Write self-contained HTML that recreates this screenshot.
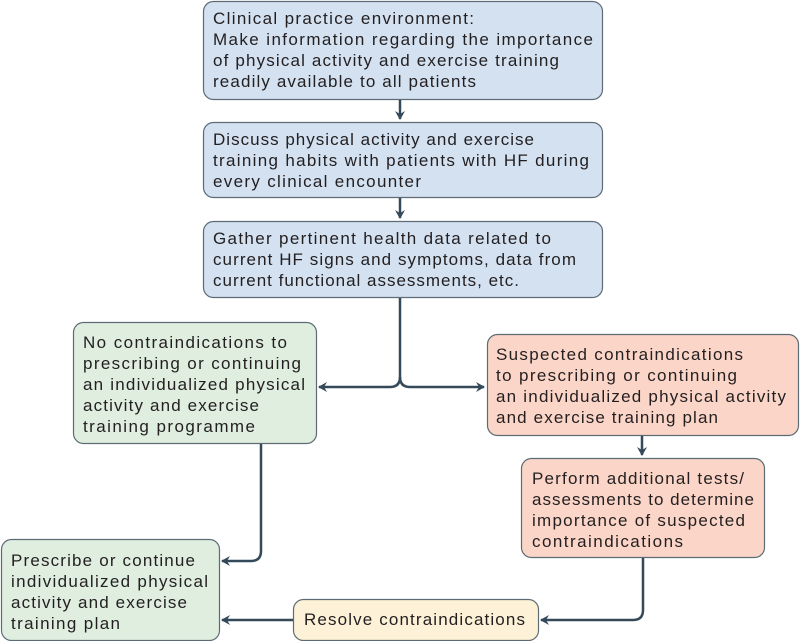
<!DOCTYPE html>
<html><head><meta charset="utf-8"><style>
html,body{margin:0;padding:0;background:#fff;width:800px;height:641px;overflow:hidden}
text{font-family:"Liberation Sans",sans-serif;font-size:17px;fill:#231f20}
</style></head><body>
<svg width="800" height="641" viewBox="0 0 800 641" xmlns="http://www.w3.org/2000/svg">
<defs><marker id="a" markerWidth="10" markerHeight="10" refX="8" refY="5" orient="auto" markerUnits="userSpaceOnUse"><path d="M0,0 L9,5 L0,10 L3,5 Z" fill="#34495a"/></marker></defs>
<g stroke="#5c6b75" stroke-width="1.2">
<rect x="203.5" y="1.5" width="399" height="98" rx="10" fill="#d3e1f1"/>
<rect x="203.5" y="122.5" width="399" height="75" rx="10" fill="#d3e1f1"/>
<rect x="203.5" y="221.5" width="399" height="76" rx="10" fill="#d3e1f1"/>
<rect x="73.5" y="322.5" width="243" height="121" rx="10" fill="#dfeedf"/>
<rect x="487.5" y="334.5" width="311" height="101" rx="10" fill="#fbd6c8"/>
<rect x="521.5" y="458.5" width="243" height="99" rx="10" fill="#fbd6c8"/>
<rect x="1.5" y="539.5" width="218" height="101" rx="10" fill="#dfeedf"/>
<rect x="293.5" y="599.5" width="245" height="41" rx="10" fill="#fdf2d7"/>
</g>
<g stroke="#34495a" stroke-width="2.5" fill="none">
<path d="M400,100 V119" marker-end="url(#a)"/>
<path d="M400,198 V218" marker-end="url(#a)"/>
<path d="M400,298 V377 Q400,387 390,387 H319" marker-end="url(#a)"/>
<path d="M400,377 Q400,387 410,387 H484" marker-end="url(#a)"/>
<path d="M642,436 V455" marker-end="url(#a)"/>
<path d="M261,444 V551 Q261,561 251,561 H222" marker-end="url(#a)"/>
<path d="M643,558 V610 Q643,620 633,620 H541" marker-end="url(#a)"/>
<path d="M293,620 H222" marker-end="url(#a)"/>
</g>
<text x="213" y="24" textLength="261">Clinical practice environment:</text>
<text x="213" y="45" textLength="380">Make information regarding the importance</text>
<text x="213" y="66" textLength="346">of physical activity and exercise training</text>
<text x="213" y="87" textLength="263">readily available to all patients</text>
<text x="213" y="145" textLength="321">Discuss physical activity and exercise</text>
<text x="213" y="166" textLength="376">training habits with patients with HF during</text>
<text x="213" y="187" textLength="208">every clinical encounter</text>
<text x="213" y="244" textLength="338">Gather pertinent health data related to</text>
<text x="213" y="265" textLength="363">current HF signs and symptoms, data from</text>
<text x="213" y="286" textLength="306">current functional assessments, etc.</text>
<g>
<text x="83" y="348" textLength="204">No contraindications to</text>
<text x="83" y="369" textLength="218">prescribing or continuing</text>
<text x="83" y="390" textLength="222">an individualized physical</text>
<text x="83" y="411" textLength="176">activity and exercise</text>
<text x="83" y="432" textLength="172">training programme</text>
<text x="496" y="360" textLength="247">Suspected contraindications</text>
<text x="496" y="381" textLength="241">to prescribing or continuing</text>
<text x="496" y="402" textLength="290">an individualized physical activity</text>
<text x="496" y="423" textLength="222">and exercise training plan</text>
<text x="532" y="484" textLength="212">Perform additional tests/</text>
<text x="532" y="505" textLength="222">assessments to determine</text>
<text x="532" y="526" textLength="213">importance of suspected</text>
<text x="532" y="547" textLength="151">contraindications</text>
<text x="11" y="566" textLength="184">Prescribe or continue</text>
<text x="11" y="587" textLength="197">individualized physical</text>
<text x="11" y="608" textLength="176">activity and exercise</text>
<text x="11" y="629" textLength="109">training plan</text>
<text x="304" y="625" textLength="221">Resolve contraindications</text>
</g>
</svg>
</body></html>
